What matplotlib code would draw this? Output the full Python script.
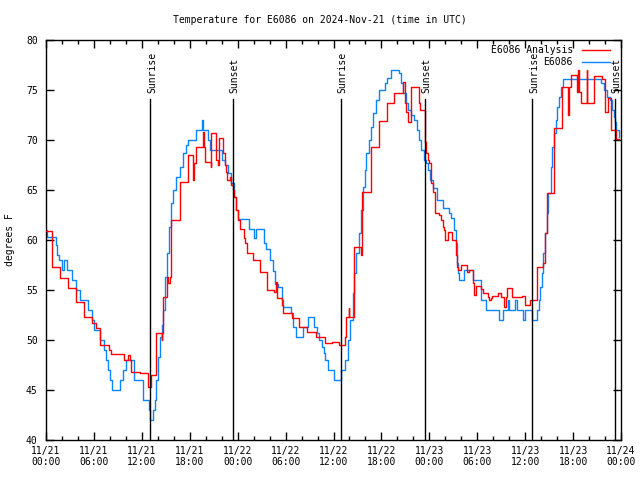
from matplotlib import use
use('Agg')

from matplotlib import pyplot as plt
from matplotlib.ticker import MultipleLocator

plt.rcParams['font.family'] = ['DejaVu Sans Mono']
plt.rcParams['font.size'] = 7

# hours since 11/21 00:00 UTC, value holds until the next time (step data)
obs_hours = [0.0, 0.1, 1.2, 1.4, 1.6, 2.0, 2.3, 2.6, 3.3, 3.7, 4.2, 5.2, 5.8, 6.0, 6.8, 7.2,
             7.5, 7.8, 8.0, 8.3, 9.3, 9.6, 10.0, 11.0, 12.2, 12.9, 13.0, 13.4, 13.6, 13.8,
             14.0, 14.3, 14.5, 14.7, 14.9, 15.2, 15.4, 15.7, 15.9, 16.3, 16.75, 17.2, 17.5,
             17.8, 18.8, 19.5, 19.7, 20.3, 20.5, 22.0, 22.4, 22.8, 23.2, 23.6, 23.8, 24.0,
             25.4, 26.1, 26.25, 27.3, 27.5, 28.0, 28.4, 28.7, 29.0, 29.5, 29.7, 30.7, 30.9,
             31.3, 32.2, 32.8, 33.6, 33.9, 34.2, 34.5, 34.8, 34.9, 35.3, 36.0, 37.0, 37.4,
             37.8, 38.1, 38.4, 38.6, 38.8, 39.2, 39.5, 39.7, 39.9, 40.1, 40.4, 40.7, 40.9,
             41.3, 41.75, 42.4, 42.7, 43.2, 44.25, 44.5, 44.75, 45.1, 45.3, 45.7, 46.1,
             46.4, 46.7, 47.0, 47.3, 47.6, 47.8, 48.1, 48.4, 48.9, 49.7, 50.5, 50.7, 51.1,
             51.3, 51.5, 51.6, 51.7, 52.4, 53.5, 54.5, 55.1, 56.75, 57.2, 57.8, 58.0, 58.75,
             59.0, 59.7, 60.0, 60.8, 61.5, 61.7, 61.8, 62.1, 62.25, 62.5, 62.7, 62.9, 63.2,
             63.4, 63.6, 63.8, 64.0, 64.25, 64.5, 64.7, 69.5, 69.9, 70.3, 70.6, 70.9, 71.1,
             71.3, 71.4, 71.7, 71.75]
obs_temp = [61, 60.3, 59.5, 58.5, 58, 57, 58, 57, 56, 55, 54, 53, 52, 51, 50, 49,
            48, 47, 46, 45, 46, 47, 48, 46, 44, 43, 42, 43, 44, 46,
            48.3, 50.3, 51.5, 53, 56.3, 58.7, 61.3, 63.7, 65, 66.3, 67.3, 68.7, 69.5,
            70, 71, 72, 71, 70, 69, 68, 67.5, 66.7, 65.7, 64.3, 63, 62.1,
            61.1, 60.2, 61.1, 59.7, 59.1, 58, 56.9, 55.6, 55.3, 54, 53.3, 52.7, 51.3,
            50.3, 51.3, 52.3, 51.3, 50.7, 50, 49.3, 48.7, 48, 47, 46, 47, 48,
            50, 52, 54.7, 56.7, 58.7, 60.7, 63, 65.3, 67, 68.7, 70, 71.3, 72.7,
            74, 75, 75.7, 76.2, 77, 76.7, 75.7, 74.7, 73.7, 73, 72.5, 72,
            71, 70, 69, 68, 67.7, 67, 66, 65.2, 64, 63.2, 62.7, 62.2, 61,
            59.7, 57.7, 56.7, 56, 57, 56, 54, 53, 52, 53, 54, 53, 54,
            53, 52, 53, 52, 53, 54, 55.3, 56.7, 58.7, 60.7, 62.7, 64.7, 67.3,
            69.3, 70.7, 72, 73.3, 74.3, 75.3, 76.1, 75.7, 75, 74.3, 74, 73, 72.3,
            71.8, 71, 70.3, 70.3]

ana_hours = [0.0, 0.7, 1.75, 2.7, 3.8, 4.7, 4.75, 5.8, 6.2, 6.8, 7.9, 8.2, 9.75, 10.25,
             10.5, 10.7, 11.8, 12.8, 13.1, 13.75, 13.8, 14.5, 14.55, 14.6, 14.7, 15.2,
             15.3, 15.5, 15.7, 16.75, 16.8, 17.8, 18.4, 18.5, 18.75, 19.7, 19.8, 19.9,
             20.6, 20.7, 21.25, 21.5, 21.7, 22.2, 22.4, 22.6, 22.7, 23.0, 23.2, 23.4,
             23.6, 23.8, 24.0, 24.25, 24.75, 24.9, 25.2, 25.9, 26.75, 27.7, 28.6, 28.8,
             28.96, 29.6, 29.7, 30.8, 31.7, 32.7, 33.75, 34.9, 35.8, 36.7, 37.5, 37.6,
             37.9, 38.0, 38.6, 39.5, 39.6, 40.7, 41.75, 42.7, 43.6, 44.7, 45.0, 45.1,
             45.3, 45.75, 46.7, 46.8, 47.4, 47.6, 47.8, 48.0, 48.2, 48.4, 48.7, 49.25,
             49.5, 49.7, 49.85, 50.0, 50.4, 50.8, 51.4, 51.5, 51.6, 52.0, 52.7, 53.0,
             53.5, 53.6, 53.9, 54.5, 54.7, 55.3, 55.5, 55.7, 55.9, 56.6, 57.0, 57.3,
             57.6, 57.7, 58.3, 59.6, 60.0, 60.6, 61.5, 62.2, 62.5, 62.7, 63.6, 64.6,
             65.4, 65.5, 65.7, 66.5, 66.6, 66.7, 67.0, 67.7, 67.8, 68.6, 69.6, 70.0,
             70.4, 70.8, 71.4, 71.75]
ana_temp = [60.9, 57.3, 56.2, 55.2, 53.8, 53.1, 52.3, 51.7, 51.2, 49.5, 49, 48.6, 48, 48.5,
            48, 46.8, 46.7, 45.3, 46.5, 48.3, 50.7, 50.0, 50.7, 52.3, 54.3, 56.3,
            55.7, 56.3, 62, 64.2, 65.8, 68.5, 66, 67.7, 69.3, 70.8, 69.3, 67.8,
            67.3, 70.7, 68, 67.5, 70.2, 68.7, 67.5, 66.8, 66, 66.3, 65.5, 65,
            64.3, 63, 62, 61.1, 60.2, 59.7, 58.7, 58, 56.8, 55, 54.8, 55.8,
            54.2, 53.5, 52.7, 52.2, 51.3, 50.8, 50.3, 49.7, 49.8, 49.5, 50.3, 52.3,
            53.2, 52.3, 59.3, 58.5, 64.8, 69.3, 71.9, 73.7, 74.7, 75.8, 73.7, 72.8,
            71.8, 75.3, 73.7, 73.0, 69.8, 68.7, 68, 67.7, 65.7, 64.8, 62.7, 62.5,
            62, 61.3, 61, 60, 60.8, 60, 58.5, 57.3, 57, 57.5, 56.8, 57,
            55.7, 54.5, 55.4, 55.1, 54.7, 54.3, 54, 54.2, 54.4, 54.7, 54.3, 53.3,
            54.3, 55.2, 54.3, 54.4, 53.5, 54, 57.3, 57.7, 60.7, 64.7, 71.2, 75.3,
            72.5, 75.3, 76.5, 74.8, 77, 74.8, 73.7, 77, 73.7, 76.4, 76.1, 72.8,
            74.2, 71, 70.1, 70.1]

sunrise_hours = [13.08, 36.97, 60.9]
sunset_hours = [23.42, 47.45, 71.25]

xtick_hours = list(range(0, 73, 6))
xtick_labels = ['11/21\n00:00', '11/21\n06:00', '11/21\n12:00', '11/21\n18:00',
                '11/22\n00:00', '11/22\n06:00', '11/22\n12:00', '11/22\n18:00',
                '11/23\n00:00', '11/23\n06:00', '11/23\n12:00', '11/23\n18:00',
                '11/24\n00:00']

red = '#ff0000'
blue = '#0a84ff'

fig = plt.figure(figsize=(6.4, 4.8), dpi=100)
ax = fig.add_axes([46 / 640, 40 / 480, 575 / 640, 400 / 480])

ax.step(ana_hours, ana_temp, where='post', color=red, lw=1.0, zorder=3)
ax.step(obs_hours, obs_temp, where='post', color=blue, lw=1.0, zorder=2)

# sunrise / sunset markers
for h in sunrise_hours:
    ax.plot([h, h], [40, 74.1], color='black', lw=1, zorder=4)
    ax.text(h + 0.2, 74.7, 'Sunrise', rotation=90, ha='center', va='bottom')
for h in sunset_hours:
    ax.plot([h, h], [40, 74.1], color='black', lw=1, zorder=4)
    ax.text(h + 0.2, 74.7, 'Sunset', rotation=90, ha='center', va='bottom')

ax.set_xlim(0, 72)
ax.set_ylim(40, 80)
ax.set_xticks(xtick_hours)
ax.set_xticklabels(xtick_labels)
ax.xaxis.set_minor_locator(MultipleLocator(2))
ax.yaxis.set_major_locator(MultipleLocator(5))
ax.tick_params(which='both', direction='in', top=True, right=True, width=1)
ax.tick_params(which='major', length=6)
ax.tick_params(which='minor', length=3)
ax.tick_params(axis='y', pad=6)
ax.tick_params(axis='x', pad=4)
for s in ax.spines.values():
    s.set_linewidth(1)

# gnuplot-style key, right-aligned text with sample line
key_rows = [('E6086 Analysis', red), ('E6086', blue)]
for i, (lab, col) in enumerate(key_rows):
    ky = 0.975 - i * 0.031
    ax.text(0.9165, ky, lab, transform=ax.transAxes, ha='right', va='center')
    ax.plot([0.932, 0.981], [ky, ky], color=col, lw=1.0, transform=ax.transAxes)

fig.text(0.5, 1 - 20 / 480, 'Temperature for E6086 on 2024-Nov-21 (time in UTC)',
         ha='center', va='center')
fig.text(10 / 640, 0.5, 'degrees F', rotation=90, ha='center', va='center')

plt.savefig('out.png', dpi=100)
plt.close(fig)
